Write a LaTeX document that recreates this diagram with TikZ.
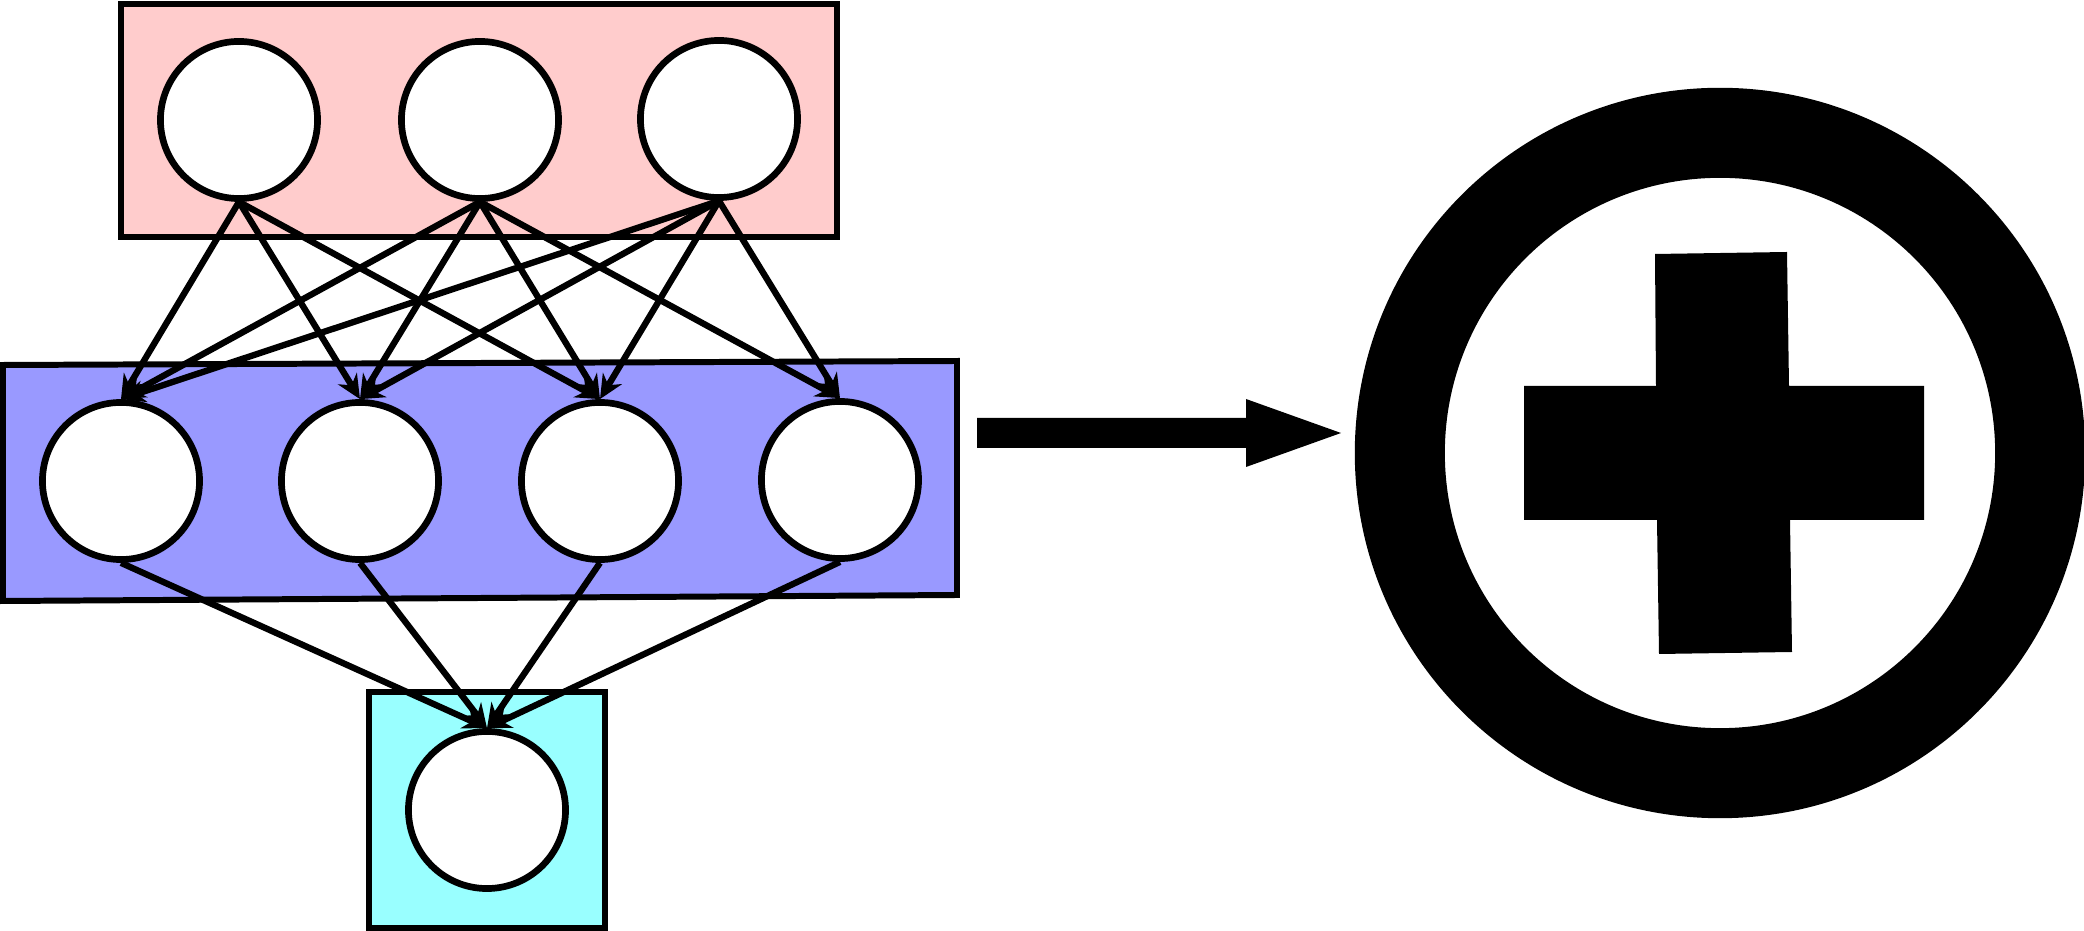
\documentclass[tikz,border=0pt]{standalone}
\usepackage{tikz}
\usetikzlibrary{arrows.meta}
\definecolor{inpink}{HTML}{FFCCCC}
\definecolor{hidblue}{HTML}{9999FF}
\definecolor{outcyan}{HTML}{99FFFF}

\begin{document}
\begin{tikzpicture}[x=0.01cm,y=-0.01cm,
    neuron/.style={circle,draw,fill=white,line width=1.9pt,minimum size=1.57cm,inner sep=0pt},
    layer/.style={draw,line width=1.7pt},
    link/.style={-{Stealth[length=0.24cm,width=0.22cm]},line width=1.8pt}]
                \useasboundingbox (0,0) rectangle (2084,931);
                % layers
                \draw[layer,fill=inpink] (121,4) rectangle (837,237);
                \draw[layer,fill=hidblue] (3,365) -- (957,361) -- (957,595) -- (3,601) -- cycle;
                \draw[layer,fill=outcyan] (369,692) rectangle (605,928);
                % neurons
                \node[neuron] (i1) at (239,120) {};
                \node[neuron] (i2) at (480,120) {};
                \node[neuron] (i3) at (719,119) {};
                \node[neuron] (h1) at (121,481) {};
                \node[neuron] (h2) at (360,481) {};
                \node[neuron] (h3) at (600,481) {};
                \node[neuron] (h4) at (840,480) {};
                \node[neuron] (o) at (487,810) {};
                \foreach \a/\b in {1/1,1/2,1/3,2/1,2/2,2/3,2/4,3/1,3/2,3/3,3/4}
                    \draw[link] (i\a.south) -- (h\b.north);
                \foreach \b in {1,2,3,4}
                    \draw[link] (h\b.south) -- (o.north);
                % big arrow
                \fill (977,418) -- (1246,418) -- (1246,399) -- (1341,433) -- (1246,467) -- (1246,448) -- (977,448) -- cycle;
                % sum symbol
                \fill[even odd rule] (1720,453) circle (3.65cm) (1720,453) circle (2.75cm);
                \fill (1655,254) -- (1787,252) -- (1789,386) -- (1924,386) -- (1924,520) -- (1790,520)
                    -- (1792,652) -- (1659,654) -- (1657,520) -- (1524,520) -- (1524,386) -- (1656,386) -- cycle;
            \end{tikzpicture}
\end{document}
